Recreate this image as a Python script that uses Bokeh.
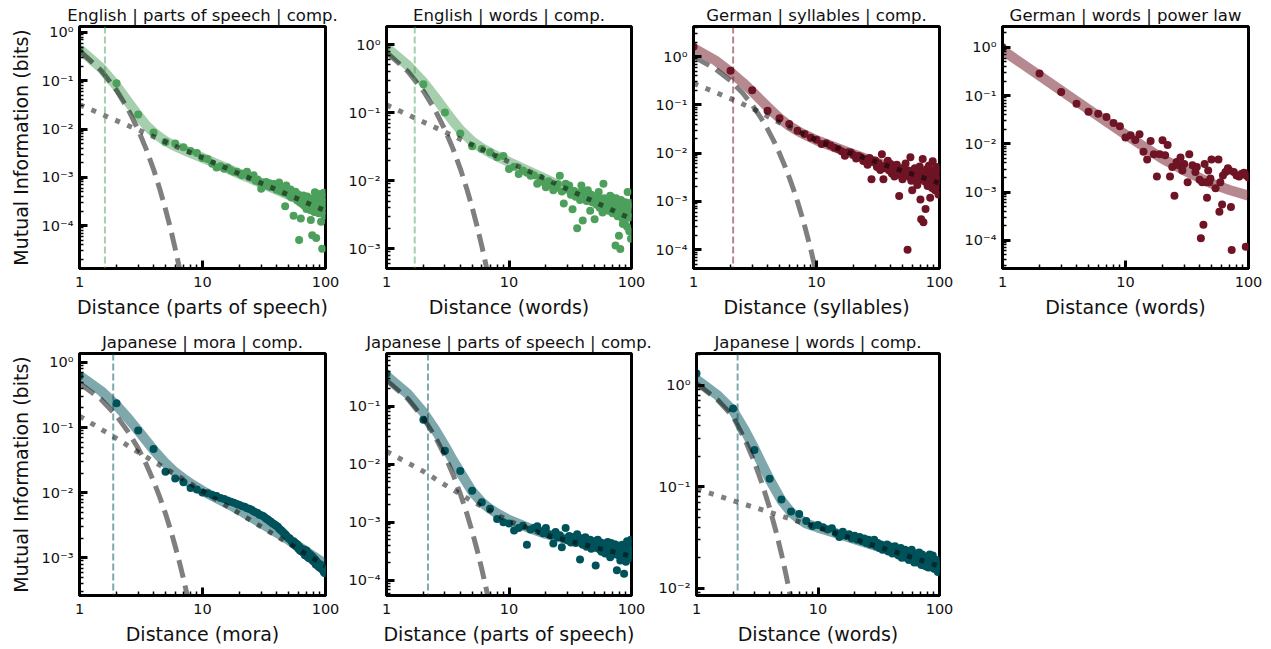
from bokeh.plotting import figure
from bokeh.layouts import column, row
from bokeh.models import FixedTicker, Span
from bokeh.embed import file_html
from bokeh.resources import INLINE

# ---------------- data ----------------
distances = list(range(1, 101))

en_pos_mi = [0.45, 0.089, 0.020, 0.0085, 0.0054, 0.0050, 0.0042, 0.0035, 0.0032, 0.0025,
             0.0024, 0.0019, 0.0016, 0.0017, 0.0015, 0.0016, 0.0014, 0.0013, 0.0013, 0.0012,
             0.0011, 0.0012, 0.0013, 0.0010, 0.00098, 0.0011, 0.00085, 0.00090, 0.00080, 0.00058,
             0.00078, 0.00072, 0.00080, 0.00066, 0.00075, 0.00062, 0.00070, 0.00073, 0.00060, 0.00055,
             0.00068, 0.00078, 0.00052, 0.00060, 0.00050, 0.00048, 0.00025, 0.00068, 0.00055, 0.00045,
             0.00042, 0.00056, 0.00038, 0.00047, 0.00016, 0.00040, 0.00050, 0.00036, 0.00033, 0.00044,
             0.000050, 0.00030, 0.00014, 0.00038, 0.00028, 0.00042, 0.00026, 0.00035, 0.00031, 0.00022,
             0.00040, 0.00024, 0.00034, 0.00029, 0.00021, 0.00013, 0.00036, 0.000063, 0.00030, 0.00025,
             0.00019, 0.00049, 0.00027, 0.000055, 0.00033, 0.00022, 0.00041, 0.00018, 0.00028, 0.00045,
             0.00024, 0.00012, 0.00035, 0.000033, 0.00030, 0.00020, 0.00048, 0.00016, 0.00026, 0.00038]

en_words_mi = [0.93, 0.26, 0.10, 0.049, 0.032, 0.029, 0.026, 0.022, 0.023, 0.0148,
               0.016, 0.0125, 0.0141, 0.013, 0.0118, 0.012, 0.0090, 0.011, 0.0095, 0.0080,
               0.0098, 0.0085, 0.0072, 0.0078, 0.0088, 0.0118, 0.0069, 0.0046, 0.0090, 0.0075,
               0.0085, 0.0062, 0.0038, 0.0070, 0.0058, 0.0020, 0.0066, 0.0052, 0.0085, 0.0026,
               0.0068, 0.0060, 0.0050, 0.0072, 0.0055, 0.0036, 0.0062, 0.0048, 0.0058, 0.0027,
               0.0052, 0.0044, 0.0060, 0.0068, 0.0040, 0.0050, 0.0046, 0.0034, 0.0090, 0.0055,
               0.0048, 0.0039, 0.0052, 0.0043, 0.0036, 0.0047, 0.0060, 0.0041, 0.0057, 0.0033,
               0.0045, 0.0050, 0.0038, 0.00111, 0.0055, 0.0042, 0.0030, 0.0046, 0.00155, 0.0039,
               0.00099, 0.0052, 0.0035, 0.0028, 0.0023, 0.0044, 0.0037, 0.0026, 0.0048, 0.0033,
               0.0040, 0.0021, 0.0068, 0.0031, 0.0043, 0.0018, 0.0047, 0.0029, 0.0014, 0.0039]

de_syl_mi = [1.6, 0.51, 0.20, 0.076, 0.053, 0.040, 0.029, 0.025, 0.021, 0.019,
             0.0155, 0.016, 0.0145, 0.013, 0.0122, 0.011, 0.0089, 0.0105, 0.0103, 0.0092,
             0.0078, 0.0087, 0.0082, 0.0069, 0.0075, 0.0058, 0.0080, 0.0029, 0.0066, 0.0071,
             0.0052, 0.0062, 0.0045, 0.0095, 0.0029, 0.0055, 0.0048, 0.0070, 0.0044, 0.0060,
             0.0038, 0.0052, 0.0033, 0.0047, 0.0058, 0.0039, 0.0013, 0.0045, 0.0034, 0.0029,
             0.0050, 0.0040, 0.0061, 0.0036, 0.00010, 0.0044, 0.0032, 0.0082, 0.0027, 0.0017,
             0.0042, 0.0035, 0.0049, 0.0030, 0.0038, 0.0022, 0.0046, 0.0028, 0.0053, 0.0011,
             0.00043, 0.0033, 0.0076, 0.00037, 0.0040, 0.0026, 0.00070, 0.0036, 0.0047, 0.0021,
             0.0031, 0.0055, 0.0024, 0.0012, 0.0038, 0.0029, 0.0019, 0.0068, 0.0034, 0.0025,
             0.0044, 0.0017, 0.0030, 0.0025, 0.0052, 0.0021, 0.0036, 0.0014, 0.0028, 0.0045]

de_words_dist = [1, 2, 3, 4, 5, 6, 7, 8, 9, 10, 11, 12, 13, 14, 15, 16, 17, 18, 19, 20,
                 21, 22, 23, 24, 25, 26, 27, 28, 29, 30, 32, 33, 35, 37, 38, 40, 41, 42, 43, 44,
                 45, 46, 47, 48, 49, 50, 54, 57, 58, 59, 61, 62, 65, 68, 70, 72, 73, 76, 80, 84,
                 88, 92, 95, 96, 100]
de_words_mi = [1.0, 0.285, 0.119, 0.068, 0.046, 0.042, 0.036, 0.027, 0.023, 0.0135,
               0.0151, 0.0120, 0.0158, 0.0068, 0.0047, 0.0114, 0.0061, 0.0021, 0.0061, 0.0119,
               0.0058, 0.0094, 0.0021, 0.0033, 0.00084, 0.0042, 0.0036, 0.0052, 0.0028, 0.0038,
               0.0016, 0.0061, 0.0036, 0.0026, 0.0033, 0.0018, 0.00011, 0.0016, 0.00021, 0.0038,
               0.0016, 0.00076, 0.0028, 0.0016, 0.0019, 0.0047, 0.0012, 0.0047, 0.00039, 0.0016,
               0.00055, 0.0022, 0.0026, 0.0031, 0.0028, 0.00049, 0.000063, 0.0026, 0.0022, 0.0021,
               0.0024, 0.0025, 0.000073, 0.0022, 0.0020]

ja_mora_mi = [0.62, 0.237, 0.09, 0.047, 0.021, 0.0165, 0.0145, 0.0118, 0.0112, 0.0101,
              0.0098, 0.0092, 0.0089, 0.0083, 0.0080, 0.0076, 0.0073, 0.0070, 0.0067, 0.0065,
              0.0062, 0.0061, 0.0058, 0.0057, 0.0055, 0.0052, 0.0050, 0.0049, 0.0046, 0.0045,
              0.0044, 0.0042, 0.0040, 0.0039, 0.0037, 0.0036, 0.0034, 0.0033, 0.0032, 0.0031,
              0.0030, 0.0028, 0.0027, 0.0026, 0.0025, 0.0024, 0.0023, 0.0022, 0.0021, 0.0020,
              0.0020, 0.0019, 0.0018, 0.0017, 0.0018, 0.0016, 0.0017, 0.0015, 0.0016, 0.0014,
              0.0015, 0.0013, 0.0014, 0.00125, 0.0013, 0.0012, 0.00135, 0.0011, 0.0012, 0.0013,
              0.00105, 0.0012, 0.0010, 0.00115, 0.00098, 0.0011, 0.00095, 0.00105, 0.0009, 0.0010,
              0.00088, 0.00095, 0.0008, 0.0009, 0.00078, 0.00085, 0.00075, 0.0008, 0.00072, 0.0008,
              0.0007, 0.00078, 0.00068, 0.00074, 0.00065, 0.0007, 0.0006, 0.00068, 0.00058, 0.00062]

ja_pos_mi = [0.36, 0.058, 0.017, 0.0076, 0.0035, 0.0022, 0.0017, 0.00114, 0.0010, 0.00095,
             0.00072, 0.00080, 0.00087, 0.00041, 0.00075, 0.00080, 0.00085, 0.00070, 0.00065, 0.00080,
             0.00062, 0.00059, 0.00043, 0.00068, 0.00055, 0.00060, 0.00037, 0.00052, 0.00080, 0.00049,
             0.00058, 0.00045, 0.00056, 0.00050, 0.00044, 0.00062, 0.00047, 0.00023, 0.00053, 0.00041,
             0.00048, 0.00055, 0.00038, 0.00046, 0.00042, 0.00050, 0.00035, 0.00044, 0.00040, 0.00047,
             0.00018, 0.00036, 0.00050, 0.00042, 0.00034, 0.00045, 0.00031, 0.00039, 0.00043, 0.00037,
             0.00029, 0.00041, 0.00035, 0.00046, 0.00030, 0.00038, 0.00025, 0.00044, 0.00033, 0.00039,
             0.00028, 0.00036, 0.00042, 0.00031, 0.00035, 0.00015, 0.00040, 0.00027, 0.00033, 0.00038,
             0.00022, 0.00035, 0.00030, 0.00041, 0.00026, 0.00034, 0.00013, 0.00037, 0.00029, 0.00021,
             0.00033, 0.00047, 0.00028, 0.00036, 0.00024, 0.00031, 0.00043, 0.00027, 0.00050, 0.00034]

ja_words_mi = [1.3, 0.59, 0.23, 0.12, 0.075, 0.057, 0.054, 0.046, 0.041, 0.042,
               0.040, 0.038, 0.039, 0.035, 0.032, 0.036, 0.033, 0.034, 0.031, 0.033,
               0.030, 0.032, 0.029, 0.031, 0.028, 0.030, 0.027, 0.0285, 0.030, 0.026,
               0.028, 0.025, 0.027, 0.024, 0.026, 0.025, 0.027, 0.023, 0.026, 0.024,
               0.022, 0.0245, 0.026, 0.022, 0.024, 0.021, 0.023, 0.025, 0.020, 0.023,
               0.021, 0.024, 0.020, 0.023, 0.0215, 0.019, 0.022, 0.020, 0.024, 0.0195,
               0.021, 0.018, 0.022, 0.0195, 0.0205, 0.018, 0.021, 0.0225, 0.0185, 0.020,
               0.017, 0.0215, 0.019, 0.017, 0.020, 0.018, 0.0165, 0.017, 0.0195, 0.0175,
               0.016, 0.019, 0.0215, 0.017, 0.0185, 0.016, 0.019, 0.021, 0.0165, 0.018,
               0.0155, 0.0185, 0.017, 0.0155, 0.019, 0.016, 0.0145, 0.0175, 0.0165, 0.0155]

# fitted curves (read at these distances)
fit_x = [1, 1.5, 2, 2.5, 3, 3.5, 4, 5, 6, 7, 8, 10, 15, 20, 30, 50, 70, 100]
en_pos_fit = [0.452, 0.184, 0.078, 0.036, 0.0192, 0.0118, 0.0085, 0.0056, 0.0044, 0.0037, 0.0032,
              0.00254, 0.00162, 0.00118, 0.00076, 0.000433, 0.000299, 0.000202]
en_words_fit = [0.90, 0.49, 0.28, 0.168, 0.1075, 0.0744, 0.0556, 0.0377, 0.030, 0.0257, 0.0228,
                0.0188, 0.0134, 0.0105, 0.00747, 0.00486, 0.00366, 0.00272]
de_syl_fit = [1.5, 0.84, 0.48, 0.295, 0.19, 0.128, 0.091, 0.053, 0.037, 0.029, 0.0243,
              0.0185, 0.0125, 0.0095, 0.0066, 0.0043, 0.0032, 0.0024]
ja_mora_fit = [0.63, 0.364, 0.219, 0.137, 0.09, 0.0625, 0.0456, 0.0284, 0.0206, 0.0165, 0.0139,
               0.0107, 0.0072, 0.0054, 0.0034, 0.0019, 0.00125, 0.00080]
ja_pos_fit = [0.33, 0.16, 0.078, 0.039, 0.0205, 0.0115, 0.0072, 0.0034, 0.0022, 0.0017, 0.00142,
              0.0011, 0.00078, 0.00063, 0.00051, 0.00041, 0.00035, 0.00030]
ja_words_fit = [1.135, 0.79, 0.563, 0.359, 0.237, 0.1625, 0.118, 0.0734, 0.0559, 0.0481, 0.0434,
                0.0396, 0.034, 0.0304, 0.0261, 0.0215, 0.0189, 0.0165]

de_words_fit_x = [1, 2, 3, 5, 7, 10, 15, 20, 30, 50, 70, 100]
de_words_fit = [0.87, 0.259, 0.127, 0.052, 0.0289, 0.0155, 0.0079, 0.0049, 0.0028, 0.0015, 0.0011, 0.00084]

exp_x = [1, 1.5, 2, 2.5, 3, 3.5, 4, 4.5, 5, 5.5, 6, 6.5, 7, 7.5, 8, 9, 10]
en_pos_exp = [0.42, 0.163, 0.0635, 0.0247, 0.0096, 0.00374, 0.00146, 5.66e-4, 2.2e-4, 8.6e-5,
              3.3e-5, 1.3e-5, 5.0e-6, 2.0e-6, 7.6e-7, 1.2e-7, 1.7e-8]
en_words_exp = [0.77, 0.40, 0.207, 0.108, 0.0558, 0.029, 0.0150, 0.0078, 0.00405, 0.0021,
                0.00109, 5.65e-4, 2.93e-4, 1.52e-4, 7.9e-5, 2.1e-5, 5.7e-6]
de_syl_exp = [1.0, 0.56, 0.316, 0.178, 0.1, 0.056, 0.0316, 0.0178, 0.01, 0.0056,
              0.00316, 0.00178, 0.001, 5.6e-4, 3.16e-4, 1.0e-4, 3.16e-5]
ja_mora_exp = [0.48, 0.27, 0.151, 0.085, 0.048, 0.027, 0.0151, 0.0085, 0.0048, 0.0027,
               0.00151, 8.5e-4, 4.8e-4, 2.7e-4, 1.51e-4, 4.8e-5, 1.5e-5]
ja_pos_exp = [0.277, 0.131, 0.062, 0.0294, 0.0139, 0.0066, 0.0031, 0.00147, 7.0e-4, 3.3e-4,
              1.56e-4, 7.4e-5, 3.5e-5, 1.66e-5, 7.8e-6, 1.75e-6, 3.9e-7]
ja_words_exp = [1.04, 0.71, 0.49, 0.292, 0.174, 0.1035, 0.0617, 0.0367, 0.0219, 0.013,
                0.00776, 0.00462, 0.00275, 0.00164, 9.8e-4, 3.5e-4, 1.2e-4]

pow_x = [1, 2, 3, 5, 10, 20, 50, 100]
en_pos_pow = [0.032, 0.0149, 0.0096, 0.0054, 0.00254, 0.00118, 4.33e-4, 2.02e-4]
en_words_pow = [0.13, 0.0727, 0.0517, 0.0336, 0.0188, 0.0105, 0.00486, 0.00272]
de_syl_pow = [0.28, 0.135, 0.085, 0.043, 0.0185, 0.0095, 0.0043, 0.0024]
ja_mora_pow = [0.15, 0.068, 0.042, 0.0236, 0.0106, 0.0048, 0.00167, 0.00075]
ja_pos_pow = [0.0166, 0.0075, 0.0044, 0.0023, 0.00105, 0.0006, 0.00037, 0.00026]
ja_words_pow = [0.095, 0.073, 0.0626, 0.0515, 0.0396, 0.0304, 0.0215, 0.0165]

vline_pos = {"en_pos": 1.61, "en_words": 1.70, "de_syl": 2.10,
             "ja_mora": 1.88, "ja_pos": 2.18, "ja_words": 2.18}

x_tick_values = [1, 10, 100]
x_tick_labels = ["1", "10", "100"]
y_tick_values = [1, 0.1, 0.01, 0.001, 0.0001]
y_tick_labels = ["10⁰", "10⁻¹", "10⁻²", "10⁻³", "10⁻⁴"]

GREEN = "#4ca05c"
RED = "#6e1424"
TEAL = "#00525a"
FONT = "DejaVu Sans"
TEXT = "#111111"

x_minor = [m * 10 ** e for e in range(0, 2) for m in range(2, 10)]
y_minor = [m * 10.0 ** e for e in range(-6, 1) for m in range(2, 10)]


def panel(title, xlabel, color, dist, mi, fx, fy, yr, width, height, left, right, bottom,
          ylabel=None, ex=None, ey=None, px=None, py=None, vline=None):
    p = figure(width=width, height=height, x_axis_type="log", y_axis_type="log",
               x_range=(1, 100), y_range=yr, output_backend="svg", toolbar_location=None,
               min_border_left=left, min_border_right=right, min_border_top=26,
               min_border_bottom=bottom, title=title)
    p.title.align = "center"
    p.title.text_font = FONT
    p.title.text_font_size = "16.5px"
    p.title.text_font_style = "normal"
    p.title.text_color = TEXT
    p.title.standoff = 3
    p.grid.visible = False
    p.background_fill_color = "white"
    p.border_fill_color = "white"
    p.outline_line_color = "black"
    p.outline_line_width = 3
    p.outline_line_alpha = 1

    p.xaxis.ticker = FixedTicker(ticks=x_tick_values, minor_ticks=x_minor)
    p.xaxis.major_label_overrides = dict(zip(x_tick_values, x_tick_labels))
    p.yaxis.ticker = FixedTicker(ticks=y_tick_values, minor_ticks=y_minor)
    p.yaxis.major_label_overrides = dict(zip(y_tick_values, y_tick_labels))
    for ax in (p.xaxis, p.yaxis):
        ax.axis_line_width = 3
        ax.axis_line_color = "black"
        ax.major_tick_in = 8
        ax.major_tick_out = 0
        ax.major_tick_line_width = 3
        ax.minor_tick_in = 4
        ax.minor_tick_out = 0
        ax.minor_tick_line_width = 1.5
        ax.major_label_text_font = FONT
        ax.major_label_text_font_size = "14.5px"
        ax.major_label_text_color = TEXT
        ax.axis_label_text_font = FONT
        ax.axis_label_text_font_size = "19px"
        ax.axis_label_text_font_style = "normal"
        ax.axis_label_text_color = TEXT
    p.xaxis.major_label_standoff = 8
    p.xaxis.axis_label_standoff = 6
    p.yaxis.major_label_standoff = 6
    p.yaxis.axis_label_standoff = 7
    p.xaxis.axis_label = xlabel
    if ylabel:
        p.yaxis.axis_label = ylabel

    if vline is not None:
        p.add_layout(Span(location=vline, dimension="height", line_color=color,
                          line_alpha=0.5, line_width=2, line_dash="7 3"))
    p.line(fx, fy, line_width=10, line_color=color, line_alpha=0.5, line_join="round")
    p.scatter(dist, mi, size=8, fill_color=color, line_color=None)
    if ex is not None:
        p.line(ex, ey, line_width=5, line_color="black", line_alpha=0.5, line_dash="18 8")
    if px is not None:
        p.line(px, py, line_width=5, line_color="black", line_alpha=0.5, line_dash="5 8")
    return p


YL = "Mutual Information (bits)"
H1, H2 = 327, 322
B1, B2 = 59, 54
p1 = panel("English | parts of speech | comp.", "Distance (parts of speech)", GREEN,
           distances, en_pos_mi, fit_x, en_pos_fit, (1.29e-5, 1.33), 345, H1, 79, 20, B1,
           ylabel=YL, ex=exp_x, ey=en_pos_exp, px=pow_x, py=en_pos_pow, vline=vline_pos["en_pos"])
p2 = panel("English | words | comp.", "Distance (words)", GREEN,
           distances, en_words_mi, fit_x, en_words_fit, (5.1e-4, 1.84), 306, H1, 40, 20, B1,
           ex=exp_x, ey=en_words_exp, px=pow_x, py=en_words_pow, vline=vline_pos["en_words"])
p3 = panel("German | syllables | comp.", "Distance (syllables)", RED,
           distances, de_syl_mi, fit_x, de_syl_fit, (4.1e-5, 4.2), 308, H1, 42, 20, B1,
           ex=exp_x, ey=de_syl_exp, px=pow_x, py=de_syl_pow, vline=vline_pos["de_syl"])
p4 = panel("German | words | power law", "Distance (words)", RED,
           de_words_dist, de_words_mi, de_words_fit_x, de_words_fit, (2.6e-5, 2.7), 309, H1, 43, 20, B1)
p5 = panel("Japanese | mora | comp.", "Distance (mora)", TEAL,
           distances, ja_mora_mi, fit_x, ja_mora_fit, (2.65e-4, 1.37), 345, H2, 79, 20, B2,
           ylabel=YL, ex=exp_x, ey=ja_mora_exp, px=pow_x, py=ja_mora_pow, vline=vline_pos["ja_mora"])
p6 = panel("Japanese | parts of speech | comp.", "Distance (parts of speech)", TEAL,
           distances, ja_pos_mi, fit_x, ja_pos_fit, (5.5e-5, 0.80), 310, H2, 40, 24, B2,
           ex=exp_x, ey=ja_pos_exp, px=pow_x, py=ja_pos_pow, vline=vline_pos["ja_pos"])
p7 = panel("Japanese | words | comp.", "Distance (words)", TEAL,
           distances, ja_words_mi, fit_x, ja_words_fit, (8.5e-3, 2.05), 304, H2, 38, 20, B2,
           ex=exp_x, ey=ja_words_exp, px=pow_x, py=ja_words_pow, vline=vline_pos["ja_words"])

layout = column(row(p1, p2, p3, p4), row(p5, p6, p7))
open("out.html", "w").write(file_html(layout, INLINE))
